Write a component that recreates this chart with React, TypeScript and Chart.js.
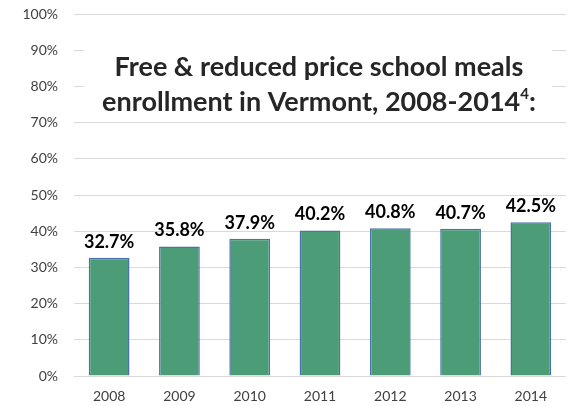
import React, { useEffect, useRef } from "react";
import { Chart, registerables } from "chart.js";

Chart.register(...registerables);

const years = ["2008", "2009", "2010", "2011", "2012", "2013", "2014"];
const enrollment = [32.7, 35.8, 37.9, 40.2, 40.8, 40.7, 42.5];
const titleLine1 = "Free & reduced price school meals";
const titleLine2 = "enrollment in Vermont, 2008-2014";
const titleSup = "4";
const titleEnd = ":";

const FONT = "Lato, 'Open Sans', sans-serif";

const titlePlugin = {
  id: "boxTitle",
  beforeDatasetsDraw(chart: any) {
    const ctx = chart.ctx;
    const area = chart.chartArea;
    ctx.save();
    ctx.fillStyle = "#ffffff";
    ctx.fillRect(area.left + 10, 40, area.right - area.left - 24, 76);
    const cx = 319;
    ctx.fillStyle = "#262626";
    ctx.textBaseline = "middle";
    ctx.font = `bold 27px ${FONT}`;
    ctx.textAlign = "center";
    ctx.fillText(titleLine1, cx, 67);
    const w2 = ctx.measureText(titleLine2).width;
    ctx.font = `bold 15px ${FONT}`;
    const ws = ctx.measureText(titleSup).width;
    ctx.font = `bold 27px ${FONT}`;
    const we = ctx.measureText(titleEnd).width;
    const total = w2 + ws + we;
    let x = cx - total / 2;
    ctx.textAlign = "left";
    ctx.fillText(titleLine2, x, 102);
    x += w2;
    ctx.font = `bold 15px ${FONT}`;
    ctx.fillText(titleSup, x, 94);
    x += ws;
    ctx.font = `bold 27px ${FONT}`;
    ctx.fillText(titleEnd, x, 102);
    ctx.restore();
  },
  afterDatasetsDraw(chart: any) {
    const ctx = chart.ctx;
    const meta = chart.getDatasetMeta(0);
    ctx.save();
    ctx.fillStyle = "#000000";
    ctx.font = `bold 18px ${FONT}`;
    ctx.textAlign = "center";
    ctx.textBaseline = "alphabetic";
    meta.data.forEach((bar: any, i: number) => {
      ctx.fillText(enrollment[i].toFixed(1) + "%", bar.x, bar.y - 10);
    });
    ctx.restore();
  },
};

export default function App() {
  const ref = useRef<HTMLCanvasElement>(null);
  useEffect(() => {
    document.body.style.margin = "0";
    const chart = new Chart(ref.current!, {
      type: "bar",
      data: {
        labels: years,
        datasets: [
          {
            data: enrollment,
            backgroundColor: "#4c9c78",
            borderColor: "#4c72aa",
            borderWidth: 1.5,
            categoryPercentage: 1,
            barPercentage: 0.58,
          },
        ],
      },
      options: {
        animation: false,
        responsive: false,
        maintainAspectRatio: false,
        layout: { padding: { top: 14, right: 5, left: 0, bottom: 0 } },
        plugins: { legend: { display: false }, tooltip: { enabled: false } },
        scales: {
          x: {
            grid: { display: false, drawTicks: false },
            border: { display: false },
            ticks: { color: "#404040", font: { family: FONT, size: 14 }, padding: 12 },
            afterFit(scale: any) {
              scale.height = 30;
            },
          },
          y: {
            min: 0,
            max: 100,
            ticks: {
              stepSize: 10,
              color: "#404040",
              font: { family: FONT, size: 14 },
              padding: 16,
              callback: (v: any) => v + "%",
            },
            grid: { color: "#d9d9d9", lineWidth: 1, drawTicks: false },
            border: { display: false },
            afterFit(scale: any) {
              scale.width = 74;
              scale.paddingTop = 8;
              scale.paddingBottom = 8;
            },
          },
        },
      },
      plugins: [titlePlugin],
    });
    return () => chart.destroy();
  }, []);
  return (
    <div style={{ width: 571, height: 406 }}>
      <canvas ref={ref} width={571} height={406} />
    </div>
  );
}
